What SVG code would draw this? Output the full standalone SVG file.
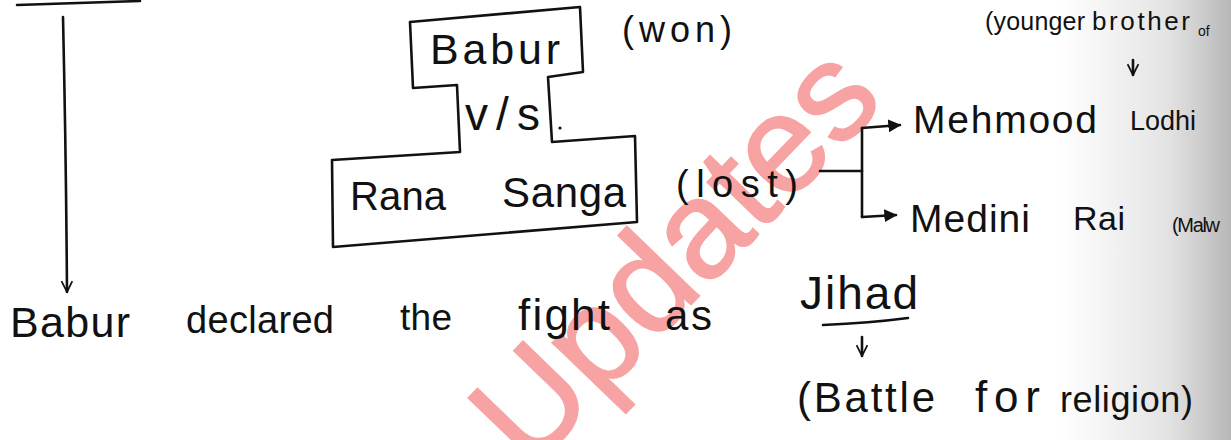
<svg xmlns="http://www.w3.org/2000/svg" width="1231" height="440" viewBox="0 0 1231 440">
  <style>
    .ink { fill: none; stroke: #111; stroke-width: 2.6; stroke-linecap: round; stroke-linejoin: round; }
    .hw { font-family: "Liberation Sans", "DejaVu Sans", sans-serif; fill: #111; }
    .mark { font-family: "Liberation Sans", "DejaVu Sans", sans-serif; fill: #f7a3a3; stroke: #f7a3a3; stroke-width: 2; font-size: 138px; }
  </style>
  <defs>
    <marker id="solid" viewBox="0 0 10 10" refX="9" refY="5" markerWidth="5" markerHeight="5" orient="auto" markerUnits="strokeWidth">
      <path d="M0,0 L10,5 L0,10 Z" fill="#111"/>
    </marker>
    <marker id="open" viewBox="0 0 12 12" refX="11" refY="6" markerWidth="5" markerHeight="5" orient="auto" markerUnits="strokeWidth">
      <path d="M1,1 L11,6 L1,11" fill="none" stroke="#111" stroke-width="1.6"/>
    </marker>
    <linearGradient id="edge" x1="0" y1="0" x2="1" y2="0">
      <stop offset="0" stop-color="#8a8a8a" stop-opacity="0"/>
      <stop offset="0.6" stop-color="#8a8a8a" stop-opacity="0.22"/>
      <stop offset="1" stop-color="#6e6e6e" stop-opacity="0.5"/>
    </linearGradient>
  </defs>

  <rect width="1231" height="440" fill="#ffffff"/>
  <!-- page shadow along the right edge -->
  <rect x="1060" y="0" width="171" height="440" fill="url(#edge)"/>

  <!-- watermark -->
  <text class="mark" transform="translate(672,252) rotate(-46)" x="0" y="50" text-anchor="middle">Updates</text>

  <!-- rule at the top-left -->
  <path class="ink" d="M17,5 L140,1" stroke-width="3.2"/>

  <!-- Babur / Rana Sanga outline -->
  <g id="node-babur-vs-sanga">
    <path class="ink" d="M410,22 L580,7 L583,72 L548,77 L552,142 L635,136 L637,222 L333,247 L332,160 L460,152 L457,85 L413,88 Z"/>
    <text class="hw" x="430" y="64" font-size="43" textLength="130" lengthAdjust="spacing">Babur</text>
    <text class="hw" x="465" y="130" font-size="46" textLength="75" lengthAdjust="spacing">v/s</text>
    <circle cx="560" cy="128" r="1.6" fill="#111"/>
    <text class="hw" x="350" y="210" font-size="40" textLength="96" lengthAdjust="spacing">Rana</text>
    <text class="hw" x="502" y="207" font-size="42" textLength="124" lengthAdjust="spacing">Sanga</text>
  </g>

  <g id="label-won">
    <text class="hw" x="622" y="42" font-size="36" textLength="110" lengthAdjust="spacing">(won)</text>
  </g>
  <g id="label-lost">
    <text class="hw" x="676" y="197" font-size="38" textLength="122" lengthAdjust="spacing">(lost)</text>
  </g>

  <g id="node-mehmood">
    <text class="hw" x="913" y="133" font-size="39" textLength="184" lengthAdjust="spacing">Mehmood</text>
    <text class="hw" x="1130" y="130" font-size="27" textLength="66" lengthAdjust="spacing">Lodhi</text>
  </g>

  <g id="note-younger">
    <text class="hw" x="985" y="30" font-size="25" textLength="100" lengthAdjust="spacing">(younger</text>
    <text class="hw" x="1092" y="30" font-size="26" textLength="98" lengthAdjust="spacing">brother</text>
    <text class="hw" x="1198" y="36" font-size="14">of</text>
  </g>

  <g id="node-medini">
    <text class="hw" x="910" y="232" font-size="39" textLength="120" lengthAdjust="spacing">Medini</text>
    <text class="hw" x="1073" y="230" font-size="34" textLength="52" lengthAdjust="spacing">Rai</text>
    <text class="hw" x="1172" y="232" font-size="20" textLength="48" lengthAdjust="spacing">(Malw</text>
  </g>

  <g id="node-sentence">
    <text class="hw" x="10" y="337" font-size="43" textLength="120" lengthAdjust="spacing">Babur</text>
    <text class="hw" x="186" y="333" font-size="38" textLength="148" lengthAdjust="spacing">declared</text>
    <text class="hw" x="400" y="330" font-size="37" textLength="52" lengthAdjust="spacing">the</text>
    <text class="hw" x="518" y="330" font-size="44" textLength="92" lengthAdjust="spacing">fight</text>
    <text class="hw" x="665" y="330" font-size="42" textLength="47" lengthAdjust="spacing">as</text>
  </g>

  <g id="node-jihad">
    <text class="hw" x="800" y="309" font-size="46" textLength="118" lengthAdjust="spacing">Jihad</text>
    <path class="ink" d="M823,325 Q870,323 908,318"/>
  </g>

  <g id="node-battle">
    <text class="hw" x="797" y="412" font-size="42" textLength="138" lengthAdjust="spacing">(Battle</text>
    <text class="hw" x="975" y="412" font-size="44" textLength="65" lengthAdjust="spacing">for</text>
    <text class="hw" x="1060" y="412" font-size="36" textLength="133" lengthAdjust="spacing">religion)</text>
  </g>

  <!-- connectors -->
  <g id="connectors">
    <path class="ink" d="M63,17 Q66,150 67,292" marker-end="url(#open)"/>
    <path class="ink" d="M1133,60 L1133,75" marker-end="url(#open)" stroke-width="2"/>
    <path class="ink" d="M820,171 L862,171"/>
    <path class="ink" d="M862,128 L862,217"/>
    <path class="ink" d="M862,128 L900,125" marker-end="url(#solid)"/>
    <path class="ink" d="M862,217 L896,215" marker-end="url(#solid)"/>
    <path class="ink" d="M862,337 L862,356" marker-end="url(#open)" stroke-width="2"/>
  </g>
</svg>
